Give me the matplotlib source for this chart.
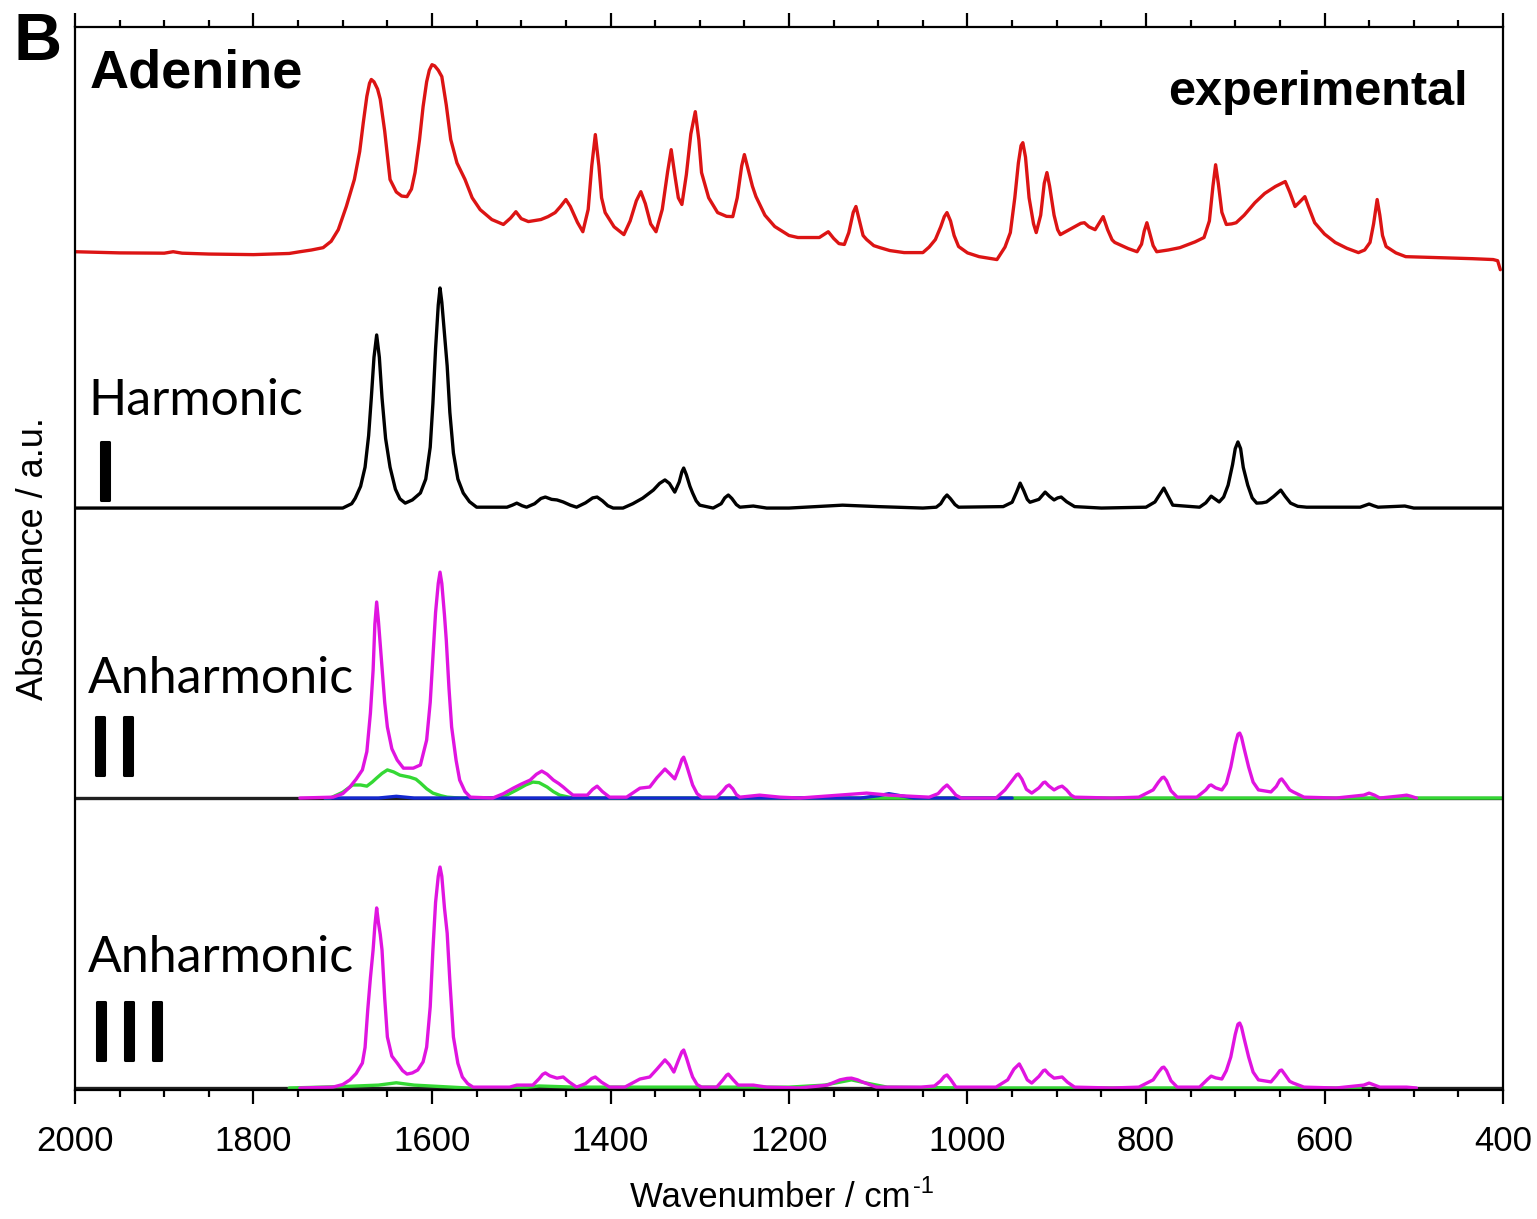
import matplotlib
matplotlib.use("Agg")
import matplotlib.pyplot as plt
from matplotlib.ticker import MultipleLocator
import matplotlib.patheffects as pe

# ---------------- data (wavenumber / cm-1, absorbance a.u.) ----------------
# Experimental spectrum (red)
exp_wn = [2000, 1950, 1900, 1890, 1880, 1850, 1800, 1760, 1748, 1735, 1722, 1713, 1705, 1696,
          1687, 1681, 1677, 1673, 1670, 1668, 1665, 1661, 1658, 1653, 1647, 1640, 1634, 1628,
          1623, 1619, 1614, 1610, 1606, 1603, 1600, 1597, 1593, 1589, 1584, 1579, 1572, 1563,
          1555, 1546, 1533, 1520, 1512, 1506, 1500, 1492, 1478, 1470, 1462, 1456, 1450, 1445,
          1437, 1431, 1425, 1421, 1417, 1413, 1410, 1406, 1396, 1385, 1378, 1371, 1366, 1361,
          1355, 1349, 1342, 1336, 1332, 1328, 1324, 1320, 1315, 1310, 1305, 1301, 1298, 1290,
          1280, 1270, 1263, 1258, 1253, 1250, 1246, 1241, 1237, 1227, 1216, 1200, 1190, 1166,
          1160, 1156, 1150, 1144, 1138, 1133, 1128, 1125, 1121, 1117, 1113, 1105, 1098, 1087,
          1071, 1050, 1043, 1036, 1030, 1026, 1023, 1019, 1015, 1010, 1000, 987, 967, 958,
          952, 947, 943, 940, 938, 935, 931, 926, 923, 918, 914, 911, 908, 903, 899, 896, 889,
          880, 873, 869, 864, 857, 852, 848, 843, 838, 835, 820, 810, 805, 802, 799, 796, 792,
          788, 775, 762, 745, 735, 729, 725, 722, 719, 715, 710, 704, 699, 690, 678, 667, 655,
          648, 644, 639, 633, 628, 622, 618, 611, 600, 588, 575, 562, 555, 549, 545, 541, 538,
          535, 531, 520, 509, 478, 434, 411, 406, 403]
exp_ab = [3.4, 3.0, 2.9, 3.4, 2.9, 2.6, 2.4, 2.8, 3.4, 4.0, 4.8, 7.0, 11.0, 19.0,
          28.3, 38.0, 47.9, 57.0, 61.5, 62.8, 62.0, 59.5, 56.0, 45.0, 28.3, 24.0, 22.6, 22.4,
          25.0, 30.7, 42.0, 53.4, 62.0, 66.0, 67.9, 67.5, 66.0, 63.8, 54.0, 42.1, 34.0, 28.3,
          22.0, 17.9, 14.5, 12.8, 15.0, 17.2, 14.8, 13.8, 14.5, 15.5, 16.9, 19.0, 21.4, 19.0,
          13.5, 10.3, 18.0, 33.0, 43.8, 33.0, 22.0, 16.9, 12.0, 9.3, 14.0, 21.0, 24.1, 20.0,
          13.0, 10.3, 18.0, 31.0, 38.6, 30.0, 22.0, 19.7, 30.0, 44.0, 51.7, 42.0, 30.7, 22.0,
          16.9, 15.6, 15.5, 22.0, 33.0, 36.9, 32.0, 26.0, 22.4, 16.0, 12.1, 9.0, 8.3, 8.3,
          9.5, 10.3, 8.0, 6.2, 5.9, 10.0, 17.0, 19.0, 14.0, 9.0, 7.6, 5.5, 4.8, 3.8,
          3.1, 3.1, 5.0, 7.6, 12.0, 15.5, 16.9, 14.0, 9.0, 5.2, 3.0, 1.7, 0.7, 5.0,
          10.0, 22.0, 34.0, 40.0, 41.0, 36.0, 22.0, 13.0, 10.0, 16.0, 27.0, 30.7, 26.0, 16.0, 11.0, 9.3, 10.5,
          12.0, 13.2, 13.4, 12.0, 11.0, 13.5, 15.5, 11.0, 7.5, 6.6, 4.5, 3.4, 6.0, 10.5, 13.4, 10.0, 5.5,
          3.4, 4.0, 4.8, 6.8, 8.3, 14.0, 26.0, 33.4, 27.0, 17.0, 12.8, 13.0, 13.4, 16.0, 20.3, 23.5, 25.9,
          27.0, 27.6, 24.0, 19.0, 20.5, 22.4, 19.0, 13.4, 9.5, 6.6, 4.6, 3.1, 4.0, 6.6, 13.0, 21.4, 16.0,
          9.0, 5.2, 3.0, 1.7, 1.4, 1.0, 0.7, 0.3, -2.8]

# Harmonic I (black)
harm_wn = [2000, 1700, 1690, 1686, 1680, 1675, 1671, 1668, 1665, 1662, 1659, 1656, 1652, 1647,
           1641, 1636, 1630, 1622, 1613, 1607, 1602, 1599, 1596, 1593, 1591, 1589, 1586, 1583,
           1580, 1576, 1571, 1565, 1558, 1550, 1516, 1510, 1505, 1499, 1494, 1485, 1478, 1473,
           1466, 1460, 1453, 1445, 1438, 1428, 1420, 1415, 1409, 1403, 1397, 1386, 1375, 1364,
           1352, 1345, 1339, 1334, 1328, 1323, 1320, 1318, 1315, 1311, 1308, 1304, 1300, 1285,
           1276, 1272, 1268, 1264, 1259, 1255, 1240, 1225, 1200, 1170, 1140, 1100, 1050, 1035,
           1030, 1026, 1023, 1019, 1014, 1010, 960, 950, 945, 941, 937, 933, 930, 920, 913, 908,
           903, 899, 895, 889, 880, 850, 800, 790, 785, 780, 776, 770, 740, 733, 727, 722, 718,
           713, 708, 703, 700, 697, 694, 691, 686, 681, 676, 670, 665, 657, 649, 644, 638, 630,
           620, 560, 550, 545, 540, 510, 500, 400]
harm_ab = [0, 0, 1.5, 3.4, 7.5, 14.1, 25.0, 38.0, 52.0, 59.7, 52.0, 38.0, 24.0, 14.1,
           6.5, 3.2, 1.7, 2.8, 5.2, 10.0, 21.0, 36.0, 55.0, 70.0, 75.9, 71.0, 60.0, 49.0,
           33.0, 19.0, 10.0, 5.2, 2.2, 0.3, 0.3, 1.0, 1.7, 0.8, 0.3, 1.5, 3.3, 3.8,
           3.0, 2.8, 2.1, 1.0, 0.3, 1.8, 3.5, 3.8, 2.5, 0.8, 0, 0, 1.5, 3.4,
           6.2, 8.5, 9.7, 8.5, 5.5, 9.0, 12.5, 13.8, 11.5, 7.5, 5.2, 2.5, 1.0, 0,
           1.5, 3.5, 4.5, 3.3, 1.2, 0.3, 0.7, 0, 0, 0.5, 1.0, 0.5, 0, 0.3,
           1.5, 3.5, 4.5, 3.2, 1.2, 0.3, 0.5, 2.0, 5.5, 8.6, 6.0, 3.0, 2.0, 3.0, 5.5, 4.0,
           2.8, 3.5, 3.8, 2.2, 0.5, 0, 0.3, 2.1, 4.5, 6.9, 4.5, 1.0, 0.3, 1.8, 4.1, 3.0, 2.1,
           3.8, 7.9, 15.0, 20.5, 22.8, 20.5, 14.0, 7.9, 3.5, 1.7, 1.8, 2.1, 4.0, 6.2, 4.0, 1.7, 0.6,
           0.3, 0.3, 1.4, 0.8, 0.3, 0.7, 0, 0]

# Anharmonic II (magenta total, green and blue components)
anh2_wn = [1748, 1711, 1700, 1692, 1685, 1678, 1673, 1669, 1666, 1664, 1662, 1660, 1658, 1656,
           1653, 1650, 1645, 1639, 1632, 1621, 1613, 1606, 1602, 1599, 1596, 1593, 1591, 1589,
           1586, 1584, 1581, 1578, 1573, 1569, 1563, 1557, 1532, 1520, 1509, 1500, 1490, 1483,
           1477, 1471, 1464, 1458, 1453, 1447, 1442, 1426, 1420, 1415, 1409, 1401, 1382, 1367,
           1356, 1348, 1339, 1334, 1328, 1323, 1320, 1318, 1315, 1311, 1308, 1303, 1298, 1281,
           1274, 1270, 1267, 1263, 1259, 1255, 1233, 1210, 1188, 1143, 1113, 1088, 1043, 1033,
           1027, 1023, 1019, 1013, 1007, 968, 958, 950, 945, 943, 939, 934, 928, 920, 915, 913,
           909, 903, 898, 894, 889, 884, 880, 838, 808, 792, 786, 782, 780, 777, 772, 765, 743,
           733, 729, 727, 722, 715, 710, 705, 700, 697, 695, 693, 690, 685, 680, 674, 660, 654,
           650, 648, 644, 639, 635, 623, 587, 556, 550, 544, 538, 513, 508, 503, 497]
anh2_ab = [0, 0.3, 1.5, 3.8, 6.5, 9.7, 16.0, 29.3, 44.0, 60.0, 67.6, 61.0, 53.0, 45.0,
           33.0, 24.5, 17.0, 13.1, 10.3, 10.3, 11.4, 20.0, 33.0, 48.6, 64.0, 74.0, 77.9, 74.0,
           63.0, 54.5, 38.0, 24.5, 13.0, 6.2, 2.2, 0.3, 0, 1.5, 3.4, 4.8, 6.2, 8.2,
           9.3, 8.2, 6.2, 5.0, 3.8, 2.2, 1.0, 1.0, 3.0, 4.1, 2.2, 0.3, 0.3, 3.4,
           3.8, 7.0, 10.0, 8.5, 6.6, 10.5, 13.3, 14.1, 11.5, 7.5, 4.5, 1.5, 0.3, 0.3,
           2.5, 4.0, 4.5, 3.2, 1.2, 0.3, 1.0, 0.3, 0, 1.0, 1.7, 1.0, 0.3, 1.5,
           3.5, 4.5, 3.2, 1.0, 0, 0, 2.8, 6.0, 8.0, 8.3, 6.5, 3.0, 1.7, 3.5, 5.3, 5.5,
           4.2, 2.8, 3.7, 4.1, 2.8, 1.0, 0.3, 0, 0.3, 2.8, 5.5, 7.0, 7.2, 6.0, 2.5, 0.3, 0.3,
           2.8, 4.3, 4.5, 3.5, 2.8, 5.0, 10.7, 18.5, 22.0, 22.4, 21.0, 17.0, 10.7, 5.5, 2.8, 2.1, 4.0,
           6.2, 6.6, 5.0, 2.8, 2.1, 0.3, 0, 1.0, 1.7, 1.0, 0, 0.8, 1.0, 0.6, 0]
anh2_green_wn = [1720, 1714, 1700, 1689, 1680, 1673, 1667, 1662, 1656, 1650, 1643, 1636, 1625,
                 1618, 1613, 1606, 1599, 1590, 1583, 1569, 1524, 1515, 1505, 1495, 1487, 1480,
                 1471, 1464, 1457, 1442, 400]
anh2_green_ab = [0, 0, 2.0, 4.5, 4.5, 4.1, 5.5, 6.9, 8.5, 9.7, 9.0, 7.9, 7.2,
                 6.5, 5.2, 3.2, 1.7, 0.8, 0.3, 0, 0, 1.2, 2.8, 4.5, 5.5, 5.3,
                 3.8, 2.2, 1.0, 0, 0]
anh2_blue_wn = [1720, 1660, 1640, 1620, 1120, 1100, 1088, 1075, 1060, 950]
anh2_blue_ab = [0, 0, 0.6, 0, 0, 0.8, 1.5, 0.8, 0, 0]

# Anharmonic III (magenta total, green component)
anh3_wn = [1748, 1711, 1700, 1692, 1685, 1678, 1675, 1672, 1669, 1666, 1664, 1662, 1660, 1658,
           1656, 1653, 1650, 1645, 1639, 1633, 1628, 1622, 1616, 1610, 1606, 1602, 1599, 1596,
           1593, 1591, 1589, 1586, 1583, 1580, 1576, 1571, 1566, 1560, 1554, 1513, 1505, 1487,
           1480, 1476, 1473, 1468, 1460, 1453, 1446, 1438, 1428, 1421, 1417, 1410, 1401, 1384,
           1367, 1356, 1348, 1339, 1334, 1329, 1324, 1320, 1318, 1315, 1311, 1308, 1303, 1298,
           1281, 1274, 1270, 1268, 1263, 1257, 1240, 1225, 1188, 1157, 1143, 1135, 1130, 1123,
           1118, 1102, 1072, 1052, 1037, 1030, 1026, 1023, 1019, 1013, 968, 955, 948, 942, 938,
           933, 928, 920, 915, 913, 909, 903, 898, 894, 888, 880, 838, 808, 792, 786, 782, 780,
           777, 772, 765, 740, 731, 727, 722, 715, 710, 705, 700, 697, 695, 693, 690, 685, 680,
           674, 660, 654, 650, 648, 644, 639, 635, 623, 587, 556, 550, 544, 538, 508, 497]
anh3_ab = [0, 0.3, 1.2, 2.8, 5.0, 8.6, 14.0, 26.9, 38.0, 47.6, 56.0, 62.1, 57.0, 53.0,
           47.6, 31.0, 17.6, 11.0, 8.6, 6.0, 4.8, 5.2, 6.2, 9.0, 14.1, 28.0, 47.6, 64.0,
           73.0, 76.2, 73.0, 62.0, 53.4, 37.0, 17.6, 8.5, 3.8, 1.5, 0.3, 0.3, 1.0, 1.0,
           3.2, 4.7, 5.2, 4.2, 3.4, 3.8, 2.0, 0.3, 1.5, 3.3, 3.8, 2.0, 0.3, 0.3,
           3.1, 3.8, 6.5, 9.7, 8.0, 5.5, 9.5, 12.5, 13.1, 10.5, 6.5, 3.8, 1.2, 0.3,
           0.3, 2.8, 4.4, 4.8, 3.0, 1.0, 1.0, 0.3, 0, 1.0, 2.8, 3.3, 3.4, 2.8,
           2.1, 0.3, 0.3, 0.3, 0.7, 2.5, 4.0, 4.5, 3.0, 0.3, 0.3, 2.8, 6.5, 8.3, 6.0,
           2.8, 1.7, 4.0, 6.0, 6.2, 4.8, 3.4, 3.6, 3.8, 2.0, 0.3, 0, 0.3, 2.8, 5.5, 7.0, 7.2,
           6.0, 2.5, 0.3, 0.3, 3.0, 4.1, 3.5, 3.1, 6.0, 10.7, 18.5, 22.0, 22.4, 21.0, 17.0, 10.7, 5.5,
           2.8, 2.1, 4.3, 6.0, 6.2, 4.5, 2.3, 1.7, 0.3, 0, 1.0, 1.7, 1.0, 0.3, 0.3, 0]
anh3_green_wn = [1760, 1700, 1660, 1640, 1620, 1590, 1560, 1500, 1480, 1440, 1200, 1160,
                 1130, 1110, 1090, 1000, 560]
anh3_green_ab = [0, 0.5, 1.0, 1.8, 1.0, 0.5, 0, 0, 0.7, 0.3, 0.3, 1.0,
                 2.8, 1.5, 0.3, 0, 0]

baseline_wn = [2000, 400]
baseline_ab = [0, 0]

# vertical offsets of the stacked spectra
offsets = {"exp": 285, "I": 200, "II": 100, "III": 0}

x_ticks = [2000, 1800, 1600, 1400, 1200, 1000, 800, 600, 400]

# ---------------- figure ----------------
W, H = 1537, 1219
fig = plt.figure(figsize=(W / 100, H / 100), dpi=100)
ax = fig.add_axes([75 / W, (H - 1090) / H, 1428 / W, (1090 - 27) / H])

RED = "#dc1414"
MAG = "#e014e0"
GRN = "#34d834"
BLU = "#1428d0"
lw = 2.4
style = dict(lw=lw, solid_joinstyle="round", solid_capstyle="round")


def shift(vals, off):
    return [v + off for v in vals]


ax.plot(exp_wn, shift(exp_ab, offsets["exp"]), color=RED, **style)
ax.plot(harm_wn, shift(harm_ab, offsets["I"]), color="black", **style)

ax.plot(baseline_wn, shift(baseline_ab, offsets["II"]), color="#202020", **style)
ax.plot(anh2_green_wn, shift(anh2_green_ab, offsets["II"]), color=GRN, **style)
ax.plot(anh2_blue_wn, shift(anh2_blue_ab, offsets["II"]), color=BLU, **style)
ax.plot(anh2_wn, shift(anh2_ab, offsets["II"]), color=MAG, **style)

ax.plot(baseline_wn, shift(baseline_ab, offsets["III"]), color="#202020", **style)
ax.plot(anh3_green_wn, shift(anh3_green_ab, offsets["III"]), color=GRN, **style)
ax.plot(anh3_wn, shift(anh3_ab, offsets["III"]), color=MAG, **style)

ax.set_xlim(2000, 400)
ax.set_ylim(-0.69, 365.9)

ax.set_xticks(x_ticks)
ax.xaxis.set_minor_locator(MultipleLocator(50))
ax.tick_params(axis="x", which="both", direction="out", top=True, bottom=True,
               labeltop=False, width=1.6)
ax.tick_params(axis="x", which="major", length=10, pad=15, labelsize=25)
ax.tick_params(axis="x", which="minor", length=5)
ax.set_yticks([])
for s in ax.spines.values():
    s.set_linewidth(1.6)

for lab in ax.get_xticklabels():
    lab.set_fontfamily("Liberation Sans")

ax.set_xlabel("Wavenumber / cm", fontsize=25, fontfamily="Liberation Sans", labelpad=17)
ax.xaxis.label.set_x(0.487)
ax.set_ylabel("Absorbance / a.u.", fontsize=26, fontfamily="Liberation Sans",
              labelpad=17)

# superscript "-1" after the x label
fig.canvas.draw()
xl = ax.xaxis.label
bb = xl.get_window_extent()
fig.text((bb.x1 + 2) / W, (bb.y1 + 5) / H, "-1", fontsize=17,
         fontfamily="Liberation Sans", ha="left", va="top")

# panel letter and titles
fig.text(14 / W, 1 - 60 / H, "B", fontsize=48, fontweight="bold",
         fontfamily="Liberation Sans", va="baseline", ha="left")
fig.text(90 / W, 1 - 87 / H, "Adenine", fontsize=39, fontweight="bold",
         fontfamily="Liberation Sans", va="baseline", ha="left")
fig.text(1468 / W, 1 - 105 / H, "experimental", fontsize=35, fontweight="bold",
         fontfamily="Liberation Sans", va="baseline", ha="right")

ann_font = dict(fontsize=36, fontfamily="Lato", fontweight="normal",
                va="baseline", ha="left", color="black")
fig.text(88 / W, 1 - 415 / H, "Harmonic", **ann_font)
fig.text(88 / W, 1 - 693 / H, "Anharmonic", **ann_font)
fig.text(88 / W, 1 - 972 / H, "Anharmonic", **ann_font)

num_font = dict(fontsize=61, fontfamily="Liberation Sans", fontweight="normal",
                va="baseline", ha="center", color="black",
                path_effects=[pe.withStroke(linewidth=2.2, foreground="black")])
fig.text(105 / W, 1 - 500 / H, "I", **num_font)
for xc in (100, 128):
    fig.text(xc / W, 1 - 775 / H, "I", **num_font)
for xc in (101, 129, 157):
    fig.text(xc / W, 1 - 1060 / H, "I", **num_font)

fig.savefig("out.png", dpi=100)
